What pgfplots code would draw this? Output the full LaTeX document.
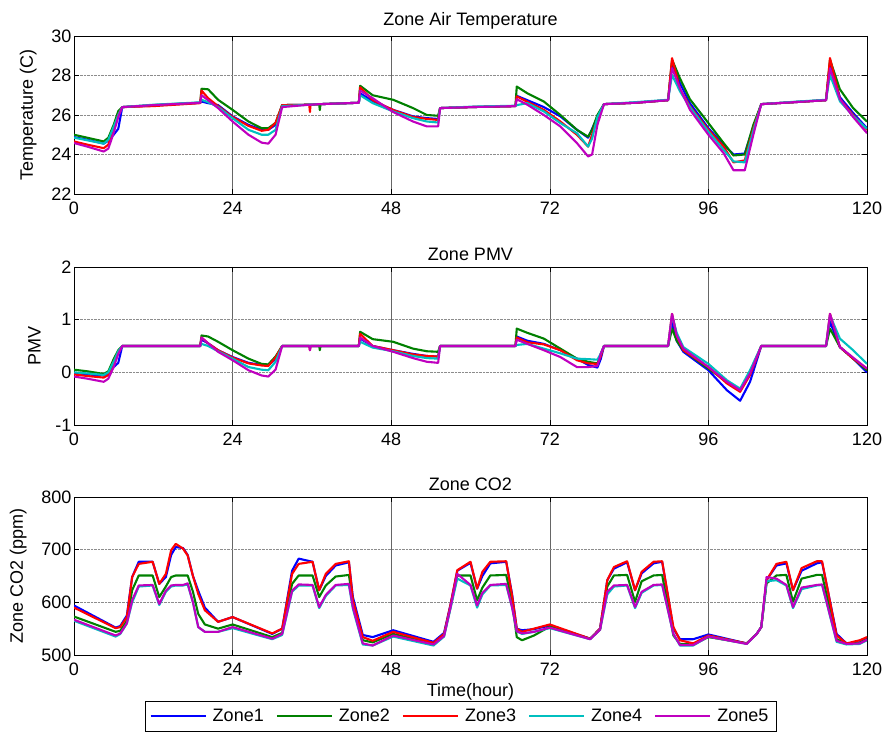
\documentclass[border=0pt]{standalone}
\usepackage{fontspec}
\setmainfont{Liberation Sans}
\usepackage{pgfplots}
\usepackage{pgfplotstable}
\pgfplotsset{compat=1.18}

\definecolor{zb}{rgb}{0,0,1}
\definecolor{zg}{rgb}{0,0.5,0}
\definecolor{zr}{rgb}{1,0,0}
\definecolor{zc}{rgb}{0,0.75,0.75}
\definecolor{zm}{rgb}{0.75,0,0.75}

\pgfplotstableread{
t b g r c m
0 24.88 25.00 24.66 24.85 24.58
2 24.75 24.85 24.50 24.72 24.40
4.5 24.55 24.66 24.32 24.55 24.15
5.2 24.70 24.85 24.50 24.75 24.30
6 25.00 25.50 25.30 25.40 25.10
6.7 25.30 26.20 26.00 26.00 25.90
7.3 26.40 26.40 26.40 26.40 26.40
12 26.48 26.50 26.45 26.52 26.50
19.1 26.62 26.62 26.60 26.64 26.62
19.3 26.68 27.33 27.24 26.77 27.00
20.3 26.60 27.30 26.85 26.65 26.75
21.8 26.50 26.77 26.45 26.40 26.35
24 25.93 26.26 25.90 25.84 25.67
26.4 25.50 25.67 25.45 25.25 25.00
28.4 25.25 25.33 25.20 25.00 24.60
29.4 25.25 25.33 25.25 25.00 24.55
30.5 25.50 25.60 25.60 25.25 25.00
31.5 26.50 26.50 26.50 26.45 26.40
35.6 26.52 26.52 26.52 26.52 26.52
35.7 26.52 26.52 26.15 26.52 26.52
35.8 26.52 26.52 26.52 26.52 26.52
37.1 26.55 26.55 26.55 26.55 26.55
37.2 26.55 26.25 26.55 26.55 26.55
37.3 26.55 26.55 26.55 26.55 26.55
43.1 26.62 26.62 26.62 26.62 26.62
43.3 27.10 27.48 27.40 27.00 27.24
45.2 26.70 27.00 26.75 26.60 26.85
48.3 26.26 26.77 26.25 26.18 26.15
51.3 25.93 26.35 25.90 25.84 25.67
53.4 25.84 26.00 25.80 25.67 25.42
55.1 25.80 25.96 25.75 25.62 25.42
55.4 26.35 26.35 26.35 26.35 26.35
60 26.40 26.40 26.40 26.42 26.40
66.8 26.45 26.45 26.45 26.47 26.45
67 26.97 27.44 26.94 26.50 26.80
68.6 26.75 27.10 26.67 26.60 26.52
71.1 26.40 26.68 26.26 26.18 26.00
73.6 25.93 26.00 25.67 25.59 25.42
76.1 25.25 25.25 25.00 25.08 24.58
77.8 24.85 24.90 24.40 24.40 23.90
78.4 25.30 25.25 25.00 24.80 24.00
79.2 25.90 26.00 25.80 25.90 25.50
80.2 26.55 26.55 26.55 26.55 26.55
85 26.62 26.62 26.62 26.65 26.62
89.9 26.75 26.75 26.75 26.77 26.75
90.5 28.60 28.80 28.88 28.03 28.37
91.7 27.60 27.85 27.30 27.20 27.35
93.2 26.60 26.80 26.45 26.40 26.27
96 25.33 25.59 25.25 25.16 25.00
98.3 24.50 24.58 24.40 24.24 24.07
99.8 24.00 23.95 23.60 23.65 23.20
101.5 24.05 24.00 23.70 23.60 23.20
102.8 25.40 25.50 25.30 25.20 25.00
104 26.55 26.55 26.55 26.55 26.55
109 26.65 26.65 26.65 26.67 26.65
113.8 26.75 26.75 26.75 26.77 26.75
114.4 28.60 28.80 28.88 28.03 28.37
115.9 26.90 27.30 26.80 26.70 26.80
117.9 26.10 26.35 26.00 25.95 25.90
120 25.33 25.67 25.25 25.30 25.08
}\temptab

\pgfplotstableread{
t b g r c m
0 -0.02 0.05 -0.04 0.00 -0.08
2 -0.04 0.02 -0.07 -0.02 -0.12
4.5 -0.06 -0.03 -0.10 -0.05 -0.18
5.2 -0.02 0.02 -0.05 0.00 -0.12
6 0.10 0.25 0.20 0.20 0.10
6.7 0.18 0.42 0.38 0.40 0.35
7.3 0.50 0.50 0.50 0.50 0.50
19.1 0.50 0.50 0.50 0.50 0.50
19.3 0.62 0.70 0.66 0.54 0.66
20.3 0.55 0.68 0.55 0.50 0.55
21.8 0.42 0.58 0.42 0.40 0.39
24 0.29 0.42 0.28 0.26 0.23
26.4 0.18 0.26 0.17 0.10 0.04
28.4 0.14 0.16 0.13 0.05 -0.06
29.4 0.14 0.15 0.12 0.04 -0.08
30.5 0.25 0.30 0.28 0.20 0.05
31.5 0.50 0.50 0.50 0.50 0.50
35.6 0.50 0.50 0.50 0.50 0.50
35.7 0.50 0.50 0.42 0.50 0.42
35.8 0.50 0.50 0.50 0.50 0.50
37.1 0.50 0.50 0.50 0.50 0.50
37.2 0.50 0.42 0.50 0.50 0.50
37.3 0.50 0.50 0.50 0.50 0.50
43.1 0.50 0.50 0.50 0.50 0.50
43.3 0.64 0.77 0.73 0.58 0.66
45.2 0.50 0.63 0.50 0.47 0.50
48.3 0.42 0.58 0.42 0.40 0.39
51.3 0.35 0.45 0.34 0.31 0.27
53.4 0.31 0.40 0.31 0.27 0.20
55.1 0.30 0.39 0.30 0.26 0.18
55.4 0.50 0.50 0.50 0.50 0.50
66.8 0.50 0.50 0.50 0.50 0.50
67 0.68 0.83 0.66 0.52 0.62
68.6 0.60 0.75 0.57 0.54 0.54
71.1 0.54 0.64 0.53 0.45 0.42
73.6 0.42 0.45 0.42 0.36 0.29
76.1 0.26 0.26 0.23 0.26 0.10
77.8 0.14 0.20 0.17 0.25 0.10
79.2 0.09 0.17 0.16 0.24 0.12
79.7 0.25 0.35 0.30 0.35 0.35
80.2 0.50 0.50 0.50 0.50 0.50
89.9 0.50 0.50 0.50 0.50 0.50
90.5 0.96 0.83 1.11 1.08 1.11
91.2 0.60 0.60 0.70 0.75 0.70
92.2 0.39 0.42 0.42 0.48 0.45
96 0.04 0.07 0.10 0.16 0.10
98.8 -0.34 -0.18 -0.21 -0.15 -0.18
100.8 -0.54 -0.34 -0.37 -0.31 -0.34
102.3 -0.18 0.00 -0.05 0.04 -0.02
104 0.50 0.50 0.50 0.50 0.50
113.8 0.50 0.50 0.50 0.50 0.50
114.4 0.96 0.83 1.11 1.08 1.11
115.9 0.48 0.48 0.48 0.64 0.48
117.9 0.26 0.26 0.26 0.42 0.28
120 0.00 0.04 0.07 0.16 0.07
}\pmvtab

\pgfplotstableread{
t b g r c m
0 594 573 590 565 567
6.3 552 544 551 535 537
7 555 546 553 540 541
8 575 565 572 560 560
8.8 648 623 648 600 604
9.8 677 651 673 630 632
11.9 677 651 677 632 633
12.9 635 610 635 595 597
13.9 648 630 654 620 622
14.7 690 648 699 630 632
15.4 705 651 711 632 633
16.5 703 651 702 632 633
17.2 690 651 689 634 636
18 650 620 650 600 600
18.8 622 578 616 553 553
19.8 590 558 585 544 544
21.8 563 550 563 544 544
24 572 558 572 551 553
30 540 534 541 530 531
31.5 550 542 550 538 540
33 660 635 654 620 622
34 683 651 673 632 634
36.1 677 651 677 632 633
37.1 623 610 623 589 591
38.1 650 632 654 612 614
39.6 670 649 673 632 633
41.6 676 652 678 633 635
42.2 610 600 604 588 591
43.7 538 528 534 520 522
45.2 534 524 527 518 518
48.3 547 540 544 535 537
54.4 525 521 523 518 520
56 542 538 540 535 536
57 597 592 597 590 592
58 660 651 661 645 654
60 675 651 677 632 633
61 626 604 626 590 594
61.8 650 628 658 615 618
63 674 651 677 632 633
65.4 677 652 678 633 635
66.3 615 600 612 590 590
67 550 534 550 545 545
67.8 547 528 544 540 541
69.6 549 537 550 544 544
72 556 554 558 551 552
78.1 531 531 531 530 530
79.6 550 548 550 548 548
80.7 642 630 642 615 620
81.7 664 651 667 630 632
83.7 676 652 678 632 633
84.9 623 601 623 589 591
85.9 655 640 658 618 620
87.7 674 651 677 632 633
89 677 652 678 633 634
90.7 550 537 553 540 540
91.7 530 521 528 518 519
93.7 530 520 522 518 519
96 539 534 537 535 535
101.8 522 522 522 521 521
103.3 540 540 540 540 540
104 553 553 553 553 553
104.8 642 636 642 640 648
106.3 670 651 673 642 645
107.8 674 652 677 632 633
108.8 623 601 623 589 591
110.1 660 645 665 625 628
112.4 674 652 678 632 633
113.2 676 652 678 633 634
115.4 540 530 537 525 527
116.9 522 522 522 520 521
118.9 524 523 528 521 522
120 532 530 534 528 529
}\cotab

\pgfplotsset{
  mat/.style={
    scale only axis, width=793pt, height=158pt,
    anchor=south west,
    xmin=0, xmax=120, xtick={0,24,...,120},
    grid=major,
    x grid style={black!60, line width=0.4pt},
    y grid style={densely dotted, black!45, line width=0.6pt},
    tick align=inside, major tick length=5pt,
    axis line style={line width=0.9pt},
    every tick/.style={black, line width=0.6pt},
    tick label style={font=\fontsize{18}{21}\selectfont},
    xticklabel style={yshift=-4pt},
    yticklabel style={xshift=1pt},
    label style={font=\fontsize{18}{21}\selectfont},
    ylabel style={yshift=8pt},
    title style={font=\fontsize{18}{21}\selectfont, yshift=-3pt},
    /pgf/number format/assume math mode=true,
    every axis plot/.append style={line width=2.1pt, line join=round},
    legend image code/.code={\draw[#1, line width=2.1pt] (0pt,0pt) -- (55pt,0pt);},
  }
}

\begin{document}
\begin{tikzpicture}
\useasboundingbox (0,0) rectangle (886pt,736pt);
\begin{axis}[mat, at={(74pt,542pt)},
  ymin=22, ymax=30, ytick={22,24,...,30},
  title={Zone Air Temperature}, ylabel={Temperature (C)}]
\addplot[zb] table[x=t,y=b]{\temptab};
\addplot[zg] table[x=t,y=g]{\temptab};
\addplot[zr] table[x=t,y=r]{\temptab};
\addplot[zc] table[x=t,y=c]{\temptab};
\addplot[zm] table[x=t,y=m]{\temptab};
\end{axis}
\begin{axis}[mat, at={(74pt,311pt)},
  ymin=-1, ymax=2, ytick={-1,0,1,2},
  title={Zone PMV}, ylabel={PMV}]
\addplot[zb] table[x=t,y=b]{\pmvtab};
\addplot[zg] table[x=t,y=g]{\pmvtab};
\addplot[zr] table[x=t,y=r]{\pmvtab};
\addplot[zc] table[x=t,y=c]{\pmvtab};
\addplot[zm] table[x=t,y=m]{\pmvtab};
\end{axis}
\begin{axis}[mat, at={(74pt,81pt)},
  ymin=500, ymax=800, ytick={500,600,700,800},
  title={Zone CO2}, ylabel={Zone CO2 (ppm)}, xlabel={Time(hour)},
  xlabel style={yshift=-1pt},
  legend columns=5,
  legend style={at={(0.488,-0.29)}, anchor=north, draw=black, line width=0.9pt,
    font=\fontsize{18}{21}\selectfont, inner xsep=4pt, inner ysep=6pt,
    column sep=0pt}]
\addplot[zb] table[x=t,y=b]{\cotab}; \addlegendentry{\kern4pt Zone1\kern10pt}
\addplot[zg] table[x=t,y=g]{\cotab}; \addlegendentry{\kern4pt Zone2\kern10pt}
\addplot[zr] table[x=t,y=r]{\cotab}; \addlegendentry{\kern4pt Zone3\kern10pt}
\addplot[zc] table[x=t,y=c]{\cotab}; \addlegendentry{\kern4pt Zone4\kern10pt}
\addplot[zm] table[x=t,y=m]{\cotab}; \addlegendentry{\kern4pt Zone5\kern2pt}
\end{axis}
\end{tikzpicture}
\end{document}
